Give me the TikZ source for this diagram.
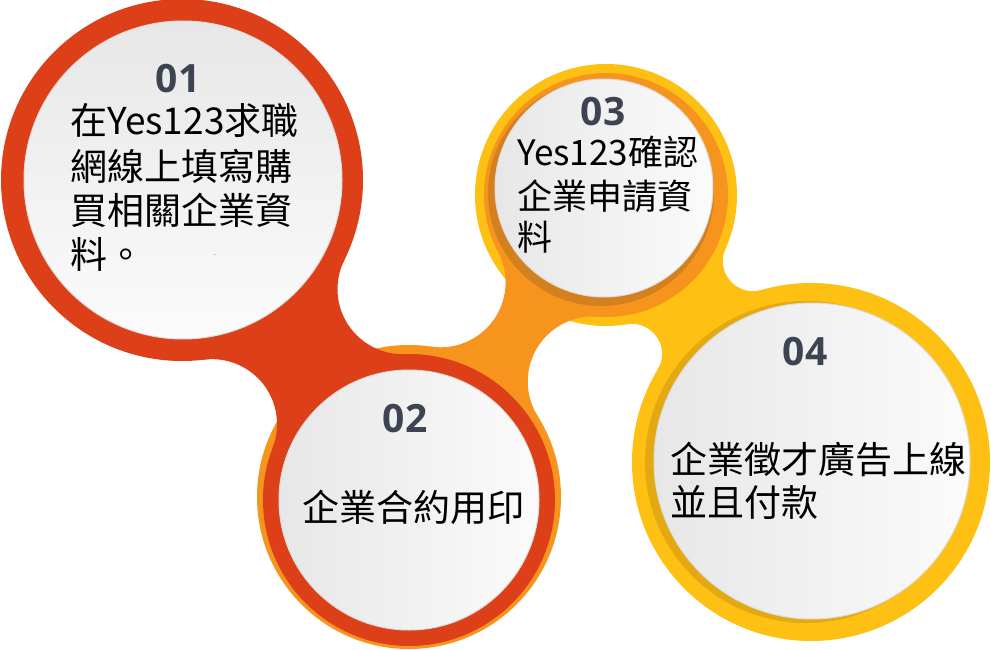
\documentclass[tikz,border=0pt]{standalone}
\usepackage{fontspec}
\newfontfamily\cjk{Noto Sans CJK TC}
\newfontfamily\numfont{Open Sans}
\usetikzlibrary{intersections}
\definecolor{cred}{HTML}{DD4018}
\definecolor{corange}{HTML}{F7941E}
\definecolor{cyellow}{HTML}{FDC013}
\definecolor{cdarkor}{HTML}{D4801E}
\definecolor{cdarkye}{HTML}{E3A812}
\definecolor{cnum}{HTML}{3D4451}
\definecolor{cwl}{HTML}{E7E7E7}
\definecolor{cwr}{HTML}{FBFBFB}
\definecolor{crim}{HTML}{DCDCDC}
% #1 P, #2 rP, #3 Q, #4 rQ, #5 hole radius, #6 colour, #7 id
\newcommand\metabridge[7]{%
  \path[name path=bA#7] (#1) circle[radius=#2+#5];
  \path[name path=bB#7] (#3) circle[radius=#4+#5];
  \path[name intersections={of=bA#7 and bB#7, by={h1#7,h2#7}}];
  \begin{scope}[even odd rule]
    \clip (-50,-50) rectangle (1050,700)
      (h1#7) circle[radius=#5] (h2#7) circle[radius=#5];
    \fill[#6] (#1) -- (h1#7) -- (#3) -- (h2#7) -- cycle;
  \end{scope}}
\tikzset{
  numtext/.style={font=\numfont\bfseries\fontsize{39}{39}\selectfont, text=cnum, inner sep=0pt},
  bodytext/.style={font=\cjk\fontsize{37}{44}\selectfont, text=black, inner sep=0pt, anchor=base west},
  smalltext/.style={font=\cjk\fontsize{35}{42}\selectfont, text=black, inner sep=0pt, anchor=base west},
  diskv/.style={draw=crim, line width=1pt, top color=cwl, bottom color=cwr},
  diskh/.style={draw=crim, line width=1pt, left color=cwl, right color=cwr},
}
\begin{document}
\begin{tikzpicture}[x=1pt,y=-1pt]
\useasboundingbox (0,0) rectangle (991,650);
\fill[white] (0,0) rectangle (991,650);
% centres
\coordinate (c1) at (182,180);
\coordinate (c2) at (409,500);
\coordinate (c2o) at (409,497);
\coordinate (c3) at (606,195);
\coordinate (c4) at (811,462);
% yellow blob
\fill[cyellow] (c3) circle[radius=131];
\fill[cyellow] (c4) circle[radius=179];
\metabridge{c3}{131}{c4}{179}{30}{cyellow}{y}
% orange blob
\fill[corange] (c2o) circle[radius=152];
\fill[corange] (c3) circle[radius=122];
\metabridge{c2o}{152}{c3}{122}{65}{corange}{o}
% red blob
\fill[cred] (c1) circle[radius=181];
\fill[cred] (c2) circle[radius=146];
\metabridge{c1}{181}{c2}{146}{65}{cred}{r}
% inner shadows
\fill[cdarkor] (601,193) circle[radius=113];
\fill[cdarkye] (806,462) circle[radius=161];
% white disks
\path[diskv] (183,180) circle[radius=159];
\path[diskh] (409,500) circle[radius=130];
\path[diskh] (604,188) circle[radius=109];
\path[diskh] (812,461) circle[radius=158];
% circle 1
\node[numtext] (n1) at (178,79) {01};
\node[bodytext] (t1a) at (70,135) {在Yes123求職};
\node[bodytext] (t1b) at (70,180) {網線上填寫購};
\node[bodytext] (t1c) at (70,224) {買相關企業資};
\node[bodytext] (t1d) at (70,268) {料。};
\node[font=\fontsize{8}{8}\selectfont, inner sep=0pt] (dot) at (215,255) {.};
% circle 2
\node[numtext] (n2) at (405,419) {02};
\node[bodytext] (t2) at (302,521) {企業合約用印};
% circle 3
\node[numtext] (n3) at (603,112) {03};
\node[smalltext] (t3a) at (517,165) {Yes123確認};
\node[smalltext] (t3b) at (517,209) {企業申請資};
\node[smalltext] (t3c) at (517,250) {料};
% circle 4
\node[numtext] (n4) at (805,352) {04};
\node[bodytext] (t4a) at (670,473) {企業徵才廣告上線};
\node[bodytext] (t4b) at (670,516) {並且付款};
\end{tikzpicture}
\end{document}
